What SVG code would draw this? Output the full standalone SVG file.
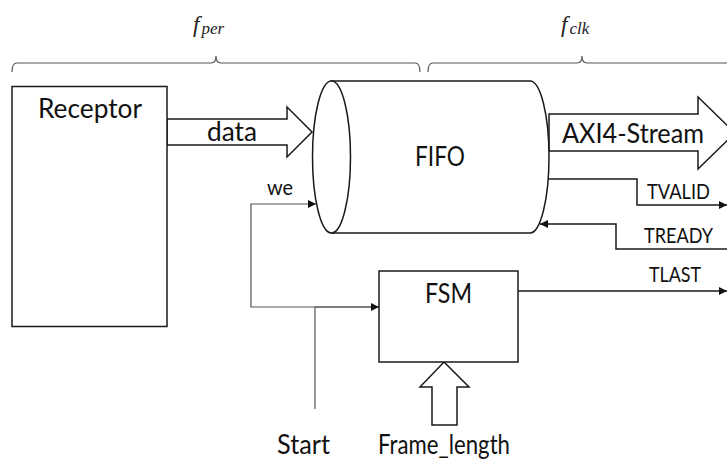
<svg xmlns="http://www.w3.org/2000/svg" width="727" height="461" viewBox="0 0 727 461">
  <style>
    .ln { fill: none; stroke: #1a1a1a; stroke-width: 1.5; }
    .thin { fill: none; stroke: #555; stroke-width: 1.2; }
    .shape { fill: #fff; stroke: #1a1a1a; stroke-width: 1.5; }
    .lbl { font-family: Lato, "Liberation Sans", sans-serif; fill: #111; }
    .big { font-size: 27px; }
    .sm { font-size: 21px; }
    .math { font-family: "Liberation Serif", serif; font-style: italic; fill: #222; }
  </style>
  <defs>
    <marker id="ah" viewBox="0 0 10 10" refX="10" refY="5" markerWidth="8" markerHeight="8" markerUnits="userSpaceOnUse" orient="auto">
      <path d="M0,0 L10,5 L0,10 Z" fill="#111"/>
    </marker>
  </defs>

  <!-- clock-domain braces -->
  <g id="domains">
    <path class="thin" d="M12,72 Q12,63 17,63 L211,63 Q216,63 216,56 Q216,63 221,63 L415,63 Q420,63 420,72"/>
    <path class="thin" d="M428,72 Q428,63 433,63 L577,63 Q582,63 582,56 Q582,63 587,63 L730,63"/>
    <text class="math" x="193" y="32" font-size="23">f<tspan font-size="17" dx="2" dy="2">per</tspan></text>
    <text class="math" x="561" y="32" font-size="23">f<tspan font-size="17" dx="2" dy="2">clk</tspan></text>
  </g>

  <g id="connectors">
    <!-- data bus -->
    <polygon class="shape" points="167,119 287,119 287,107 312,132 287,157 287,145 167,145"/>
    <!-- AXI4-Stream bus -->
    <polygon class="shape" points="549,114 698,114 698,97 735,133 698,169 698,151 549,151"/>
    <!-- Frame_length bus -->
    <polygon class="shape" points="444,362 469,387 457,387 457,425 432,425 432,387 420,387"/>
    <!-- TVALID -->
    <path class="ln" d="M548,179 L637,179 L637,205 L727,205" marker-end="url(#ah)"/>
    <!-- TREADY -->
    <path class="ln" stroke-width="2" d="M730,249 L616,249 L616,224 L540,224" marker-end="url(#ah)"/>
    <!-- TLAST -->
    <path class="ln" d="M518,291 L727,291" marker-end="url(#ah)"/>
    <!-- start / write enable -->
    <path class="thin" d="M315,409 L315,307"/>
    <path class="thin" d="M379,307 L251,307 L251,204 L316,204" marker-end="url(#ah)"/>
    <path class="thin" d="M315,307 L379,307" marker-end="url(#ah)"/>
  </g>

  <g id="receptor">
    <rect class="shape" x="12" y="86.5" width="155" height="240"/>
    <text class="lbl big" x="38" y="118" textLength="104" lengthAdjust="spacingAndGlyphs">Receptor</text>
  </g>

  <g id="fifo">
    <path class="shape" d="M331.5,81 L530,81 A19,76 0 0 1 530,233 L331.5,233 Z"/>
    <ellipse class="shape" cx="331.5" cy="157" rx="19" ry="76"/>
    <text class="lbl big" x="415" y="166" textLength="50" lengthAdjust="spacingAndGlyphs">FIFO</text>
  </g>

  <g id="fsm">
    <rect class="shape" x="379" y="271" width="139" height="91"/>
    <text class="lbl big" x="425" y="303" textLength="47" lengthAdjust="spacingAndGlyphs">FSM</text>
  </g>

  <g id="labels">
    <text class="lbl big" x="207" y="141" textLength="50" lengthAdjust="spacingAndGlyphs">data</text>
    <text class="lbl big" x="562" y="142.5" textLength="142" lengthAdjust="spacingAndGlyphs">AXI4-Stream</text>
    <text class="lbl sm" x="647" y="199" textLength="63" lengthAdjust="spacingAndGlyphs">TVALID</text>
    <text class="lbl sm" x="644" y="243" textLength="69" lengthAdjust="spacingAndGlyphs">TREADY</text>
    <text class="lbl sm" x="649" y="281.5" textLength="52" lengthAdjust="spacingAndGlyphs">TLAST</text>
    <text class="lbl sm" x="267" y="195" textLength="26" lengthAdjust="spacingAndGlyphs">we</text>
    <text class="lbl big" x="277" y="454" textLength="53" lengthAdjust="spacingAndGlyphs">Start</text>
    <text class="lbl big" x="378" y="454" textLength="132" lengthAdjust="spacingAndGlyphs">Frame_length</text>
  </g>
</svg>
